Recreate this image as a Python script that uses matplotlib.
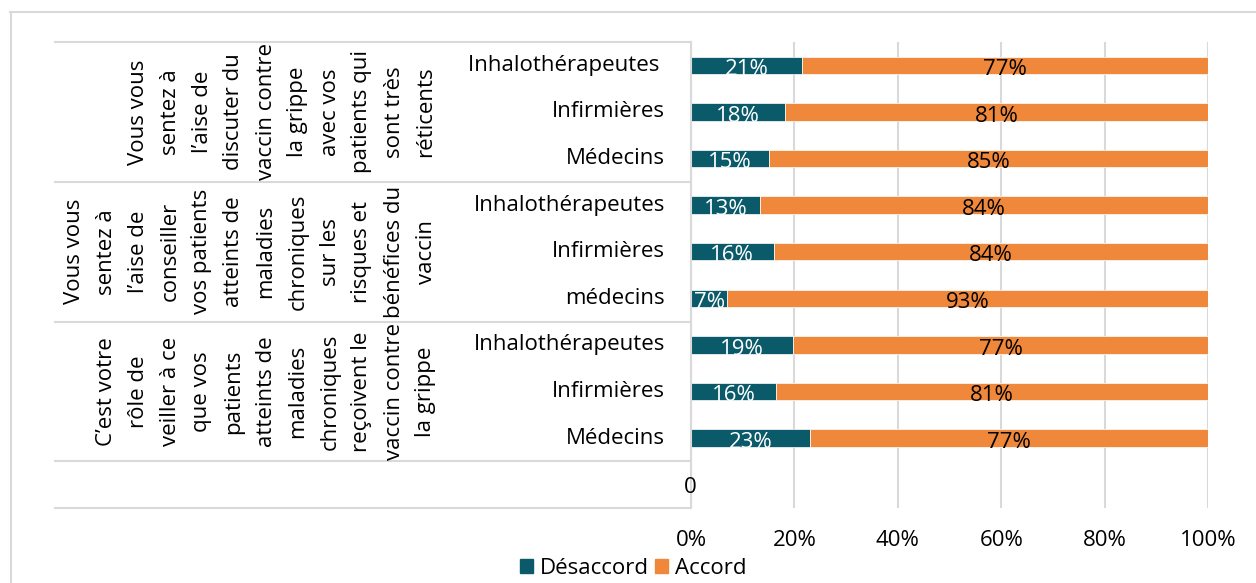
import matplotlib
matplotlib.use('Agg')
import matplotlib.pyplot as plt
import matplotlib.transforms as mtransforms
from matplotlib.lines import Line2D
from matplotlib.patches import Patch
import numpy as np

plt.rcParams['font.family'] = ['Open Sans', 'DejaVu Sans']

# Question text, one wrapped line per entry (read bottom to top)
questions = [
    ['Vous vous', 'sentez à', 'l’aise de', 'discuter du', 'vaccin contre', 'la grippe',
     'avec vos', 'patients qui', 'sont très', 'réticents'],
    ['Vous vous', 'sentez à', 'l’aise de', 'conseiller', 'vos patients', 'atteints de',
     'maladies', 'chroniques', 'sur les', 'risques et', 'bénéfices du', 'vaccin'],
    ['C’est votre', 'rôle de', 'veiller à ce', 'que vos', 'patients', 'atteints de',
     'maladies', 'chroniques', 'reçoivent le', 'vaccin contre', 'la grippe'],
]
roles = ['Inhalothérapeutes ', 'Infirmières', 'Médecins',
         'Inhalothérapeutes', 'Infirmières', 'médecins',
         'Inhalothérapeutes', 'Infirmières', 'Médecins', '0']
desaccord = [21, 18, 15, 13, 16, 7, 19, 16, 23]
accord = [77, 81, 85, 84, 84, 93, 77, 81, 77]
series = ['Désaccord', 'Accord']

teal = '#0b5a6a'
orange = '#f0883b'
grid_c = '#d9d9d9'
fs = 16

W, H = 1256, 583
fig = plt.figure(figsize=(W / 100, H / 100), dpi=100)
ax = fig.add_axes([691 / W, 1 - 508 / H, (1208 - 691) / W, (508 - 42) / H])

dis = np.array(desaccord, float)
agr = np.array(accord, float)
tot = dis + agr
dis_pct = dis / tot * 100
agr_pct = agr / tot * 100
y = np.arange(len(dis))

ax.barh(y, dis_pct, height=0.37, color=teal, edgecolor='white', linewidth=0.5)
ax.barh(y, agr_pct, left=dis_pct, height=0.37, color=orange, edgecolor='white', linewidth=0.5)

for i in y:
    ax.text(dis_pct[i] / 2, i + 0.09, f'{desaccord[i]}%', color='white',
            ha='center', va='center', fontsize=fs)
    ax.text(dis_pct[i] + agr_pct[i] / 2, i + 0.09, f'{accord[i]}%', color='black',
            ha='center', va='center', fontsize=fs)

ax.set_xlim(0, 100)
ax.set_ylim(len(roles) - 0.5, -0.5)
ax.set_yticks([])
ax.set_xticks(range(0, 101, 20))
ax.set_xticklabels([f'{v}%' for v in range(0, 101, 20)], fontsize=fs)
ax.tick_params(axis='x', length=0, pad=16)
ax.grid(axis='x', color=grid_c, linewidth=1.5)
ax.set_axisbelow(True)
for s in ['top', 'right', 'bottom']:
    ax.spines[s].set_visible(False)
ax.spines['left'].set_color(grid_c)
ax.spines['left'].set_linewidth(1.5)

# category table on the left (x in figure pixels, y in data rows)
trans = mtransforms.blended_transform_factory(fig.transFigure, ax.transData)
for i, r in enumerate(roles[:-1]):
    ax.text(665 / W, i, r, transform=trans, ha='right', va='center', fontsize=fs, clip_on=False)
ax.text(690 / W, len(roles) - 1 + 0.05, roles[-1], transform=trans, ha='center', va='center',
        fontsize=fs, clip_on=False)

for g, lines in enumerate(questions):
    yc = g * 3 + 1
    k = len(lines)
    for j, ln in enumerate(lines):
        xp = 426 - (k - 1 - j) * 32
        ax.text(xp / W, yc, ln, transform=trans, rotation=90, rotation_mode='anchor',
                ha='center', va='center', fontsize=fs, clip_on=False)

for yb in [-0.5, 2.5, 5.5, 8.5, 9.5]:
    ax.add_line(Line2D([55 / W, 690 / W], [yb, yb], transform=trans, color=grid_c,
                       linewidth=1.5, clip_on=False))

# chart area border
fig.add_artist(Line2D([10 / W, 1], [1 - 12 / H] * 2, transform=fig.transFigure,
                      color=grid_c, linewidth=1.5))
fig.add_artist(Line2D([11 / W] * 2, [0, 1 - 12 / H], transform=fig.transFigure,
                      color=grid_c, linewidth=1.5))

handles = [Patch(color=teal, label=series[0]), Patch(color=orange, label=series[1])]
fig.legend(handles=handles, loc='center left', bbox_to_anchor=(520 / W, 1 - 568 / H),
           ncol=2, frameon=False, handlelength=0.6, handleheight=0.6,
           handletextpad=0.3, columnspacing=0.25, fontsize=fs, borderpad=0, borderaxespad=0)

fig.savefig('out.png', dpi=100)
